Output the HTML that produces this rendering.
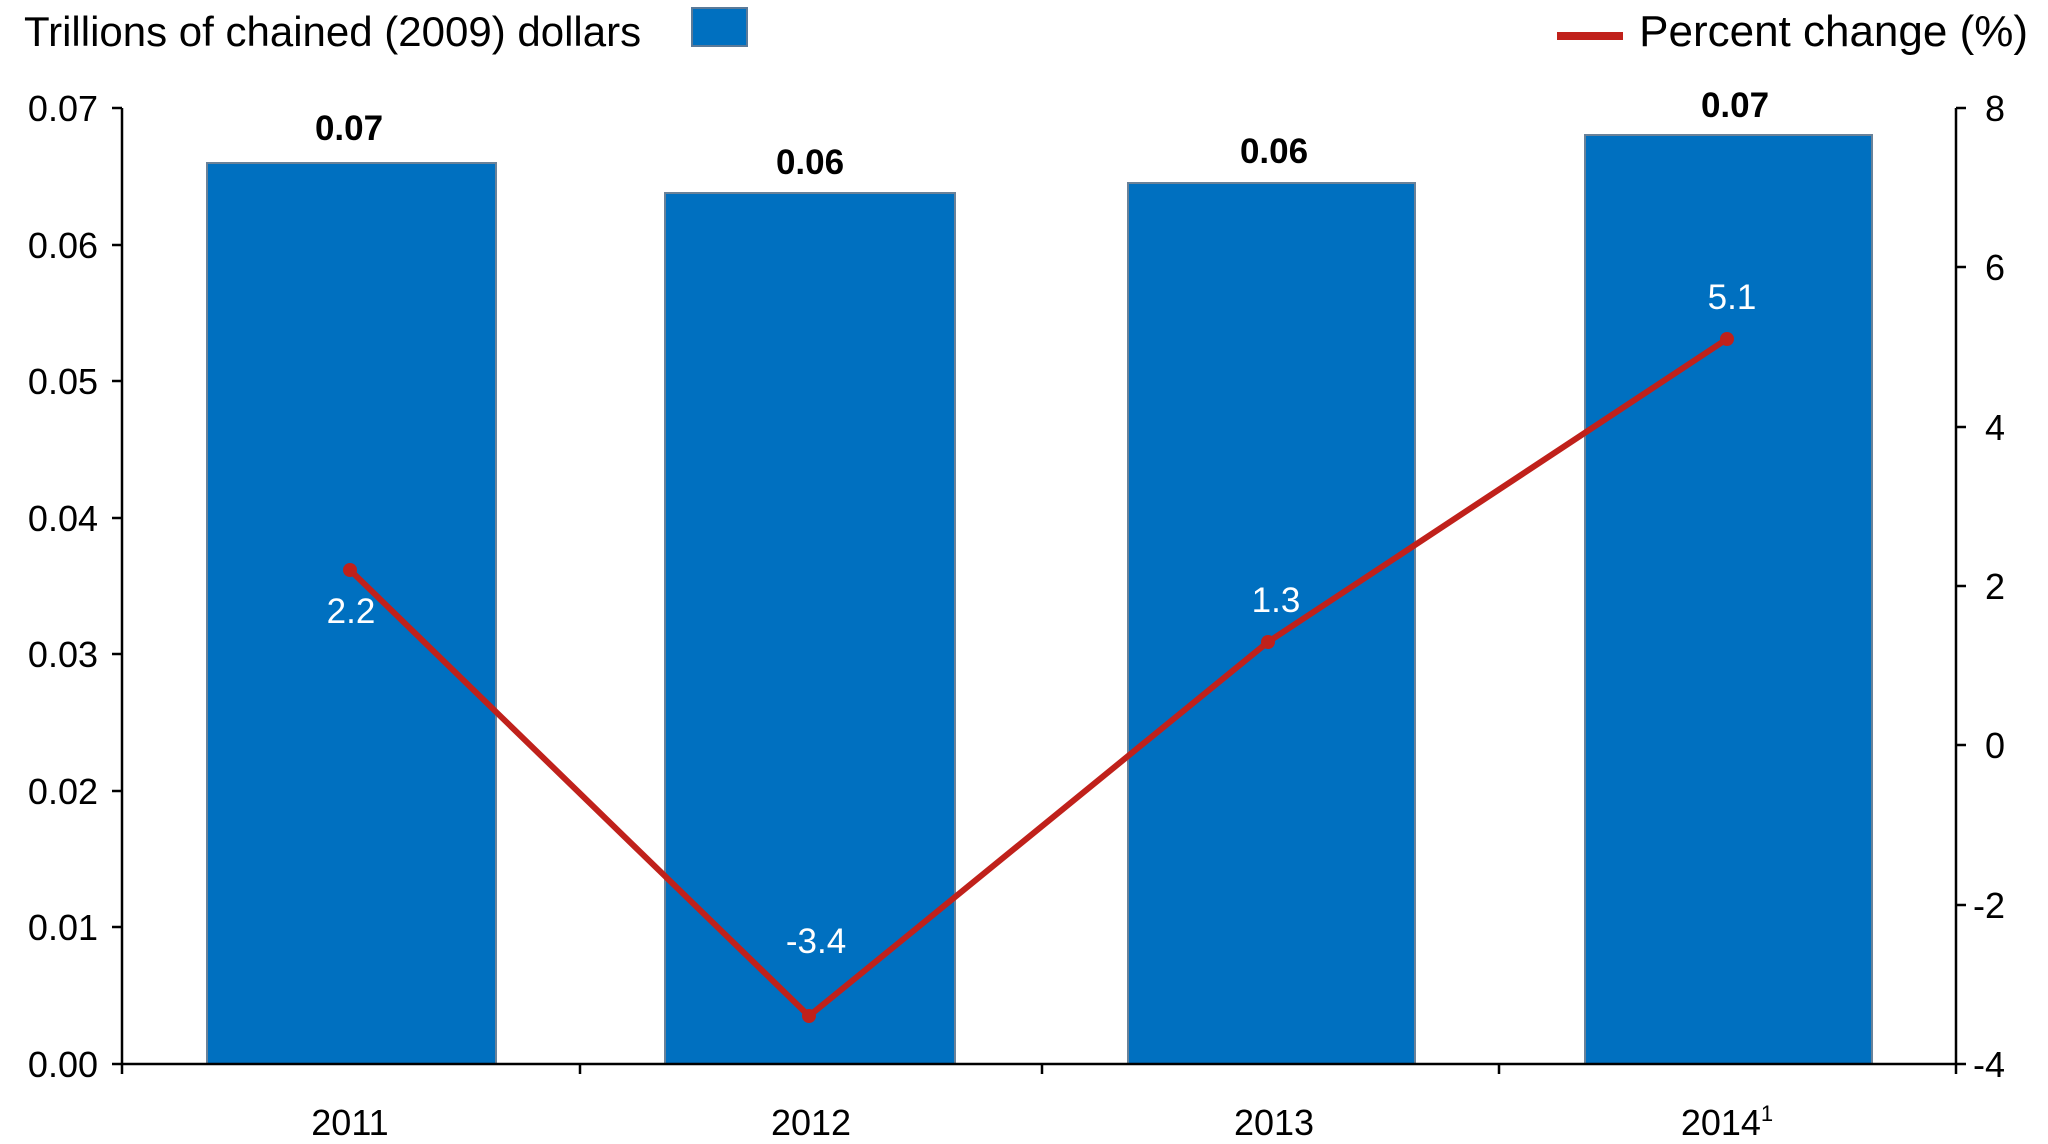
<!DOCTYPE html>
<html><head><meta charset="utf-8"><style>html,body{margin:0;padding:0;background:#fff}svg{display:block}</style></head>
<body>
<svg width="2048" height="1144" viewBox="0 0 2048 1144" xmlns="http://www.w3.org/2000/svg" font-family="Liberation Sans, Arial, sans-serif">
<rect width="2048" height="1144" fill="#fff"/>
<text x="24" y="46" font-size="42" fill="#000">Trillions of chained (2009) dollars</text>
<rect x="692" y="8" width="55" height="38" fill="#0070C0" stroke="#5a7a99" stroke-width="2"/>
<line x1="1557" y1="36" x2="1623" y2="36" stroke="#C0211B" stroke-width="8"/>
<text x="2028" y="46" font-size="44" fill="#000" text-anchor="end">Percent change (%)</text>
<g fill="#0070C0" stroke="#6a8299" stroke-width="2">
<rect x="207" y="163" width="289" height="901"/>
<rect x="665" y="193" width="290" height="871"/>
<rect x="1128" y="183" width="287" height="881"/>
<rect x="1585" y="135" width="287" height="929"/>
</g>
<g stroke="#000" stroke-width="2.5" fill="none">
<line x1="122" y1="108" x2="122" y2="1064"/>
<line x1="1956" y1="108" x2="1956" y2="1064"/>
<line x1="122" y1="1064" x2="1956" y2="1064"/>
<path d="M112 108H122M112 245H122M112 381H122M112 518H122M112 654H122M112 791H122M112 927H122M112 1064H122"/>
<path d="M1956 108H1966M1956 267H1966M1956 427H1966M1956 586H1966M1956 745H1966M1956 905H1966M1956 1064H1966"/>
<path d="M122 1064V1074M580 1064V1074M1042 1064V1074M1499 1064V1074M1956 1064V1074"/>
</g>
<g font-size="36" fill="#000" text-anchor="end">
<text x="98" y="121">0.07</text><text x="98" y="258">0.06</text><text x="98" y="394">0.05</text><text x="98" y="531">0.04</text><text x="98" y="667">0.03</text><text x="98" y="804">0.02</text><text x="98" y="940">0.01</text><text x="98" y="1077">0.00</text>
</g>
<g font-size="36" fill="#000" text-anchor="end">
<text x="2005" y="121">8</text><text x="2005" y="280">6</text><text x="2005" y="440">4</text><text x="2005" y="599">2</text><text x="2005" y="758">0</text><text x="2005" y="918">-2</text><text x="2005" y="1077">-4</text>
</g>
<g font-size="36" fill="#000" text-anchor="middle">
<text x="350" y="1135">2011</text><text x="811" y="1135">2012</text><text x="1274" y="1135">2013</text><text x="1727" y="1135">2014<tspan font-size="22" dy="-14">1</tspan></text>
</g>
<g font-size="35" font-weight="bold" fill="#000" text-anchor="middle">
<text x="349" y="140">0.07</text><text x="810" y="174">0.06</text><text x="1274" y="163">0.06</text><text x="1735" y="117">0.07</text>
</g>
<polyline points="350,570 809,1016 1268,642 1727,339" fill="none" stroke="#C0211B" stroke-width="6" stroke-linejoin="round"/>
<g fill="#C0211B"><circle cx="350" cy="570" r="7"/><circle cx="809" cy="1016" r="7"/><circle cx="1268" cy="642" r="7"/><circle cx="1727" cy="339" r="7"/></g>
<g font-size="35" fill="#fff" text-anchor="middle">
<text x="351" y="623">2.2</text><text x="816" y="953">-3.4</text><text x="1276" y="612">1.3</text><text x="1732" y="309">5.1</text>
</g>
</svg>
</body></html>
